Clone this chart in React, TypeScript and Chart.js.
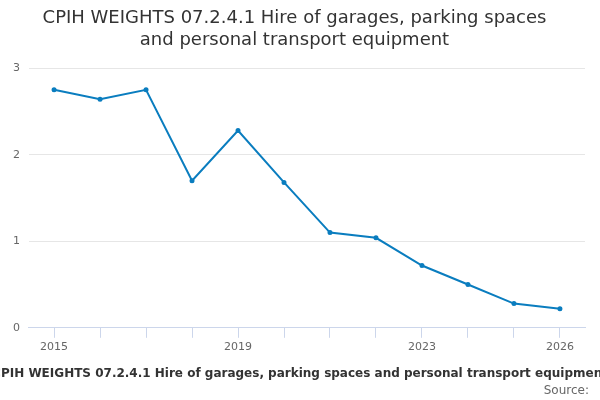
import React, { useEffect, useRef } from "react";
import { Chart, registerables } from "chart.js";
Chart.register(...registerables);

const years = [2015, 2016, 2017, 2018, 2019, 2020, 2021, 2022, 2023, 2024, 2025, 2026];
const values = [2.75, 2.64, 2.75, 1.7, 2.28, 1.68, 1.1, 1.04, 0.72, 0.5, 0.28, 0.22];
const labeledYears = [2015, 2019, 2023, 2026];
const yTicks = [0, 1, 2, 3];
const titleLines = ["CPIH WEIGHTS 07.2.4.1 Hire of garages, parking spaces", "and personal transport equipment"];
const footerText = "CPIH WEIGHTS 07.2.4.1 Hire of garages, parking spaces and personal transport equipment";
const sourceText = "Source:";

const FONT = "'DejaVu Sans', sans-serif";

export default function App() {
  const ref = useRef<HTMLCanvasElement>(null);
  useEffect(() => {
    const footer = {
      id: "footer",
      afterDraw(chart: any) {
        const ctx = chart.ctx;
        ctx.save();
        ctx.fillStyle = "#333";
        ctx.font = `bold 12px ${FONT}`;
        ctx.textAlign = "center";
        ctx.textBaseline = "middle";
        ctx.fillText(footerText, 300, 374);
        ctx.font = `12px ${FONT}`;
        ctx.fillStyle = "#666";
        ctx.textAlign = "right";
        ctx.fillText(sourceText, 589, 391);
        ctx.restore();
      },
    };
    const chart = new Chart(ref.current!, {
      type: "line",
      data: {
        datasets: [
          {
            data: years.map((y, i) => ({ x: y, y: values[i] })),
            borderColor: "#0a7dbf",
            backgroundColor: "#0a7dbf",
            borderWidth: 2,
            pointRadius: 1.5,
            pointHoverRadius: 3,
            tension: 0,
          },
        ],
      },
      options: {
        animation: false,
        responsive: false,
        layout: { padding: { left: 4, right: 15, top: 0, bottom: 43 } },
        plugins: {
          legend: { display: false },
          tooltip: { enabled: false },
          title: {
            display: true,
            text: titleLines,
            color: "#333",
            font: { family: FONT, size: 18, weight: "normal" },
            padding: { top: 8, bottom: 17 },
            lineHeight: 1.2,
          },
        },
        scales: {
          x: {
            type: "linear",
            min: 2014.455,
            max: 2026.545,
            afterBuildTicks: (s: any) => {
              s.ticks = years.map((v) => ({ value: v }));
            },
            ticks: {
              autoSkip: false,
              maxRotation: 0,
              color: "#666",
              font: { family: FONT, size: 11 },
              callback: (v: any) => (labeledYears.includes(Number(v)) ? String(v) : ""),
            },
            grid: { drawOnChartArea: false, color: "#ccd6eb", tickLength: 10 },
            border: { color: "#ccd6eb" },
          },
          y: {
            min: 0,
            max: 3,
            afterBuildTicks: (s: any) => {
              s.ticks = yTicks.map((v) => ({ value: v }));
            },
            ticks: { color: "#666", font: { family: FONT, size: 11 }, padding: 9 },
            grid: { color: "#e6e6e6", drawTicks: false },
            border: { display: false },
          },
        },
      },
      plugins: [footer],
    });
    return () => chart.destroy();
  }, []);
  return (
    <div style={{ position: "absolute", left: 0, top: 0, width: 600, height: 400, background: "#fff" }}>
      <canvas ref={ref} width={600} height={400} />
    </div>
  );
}
